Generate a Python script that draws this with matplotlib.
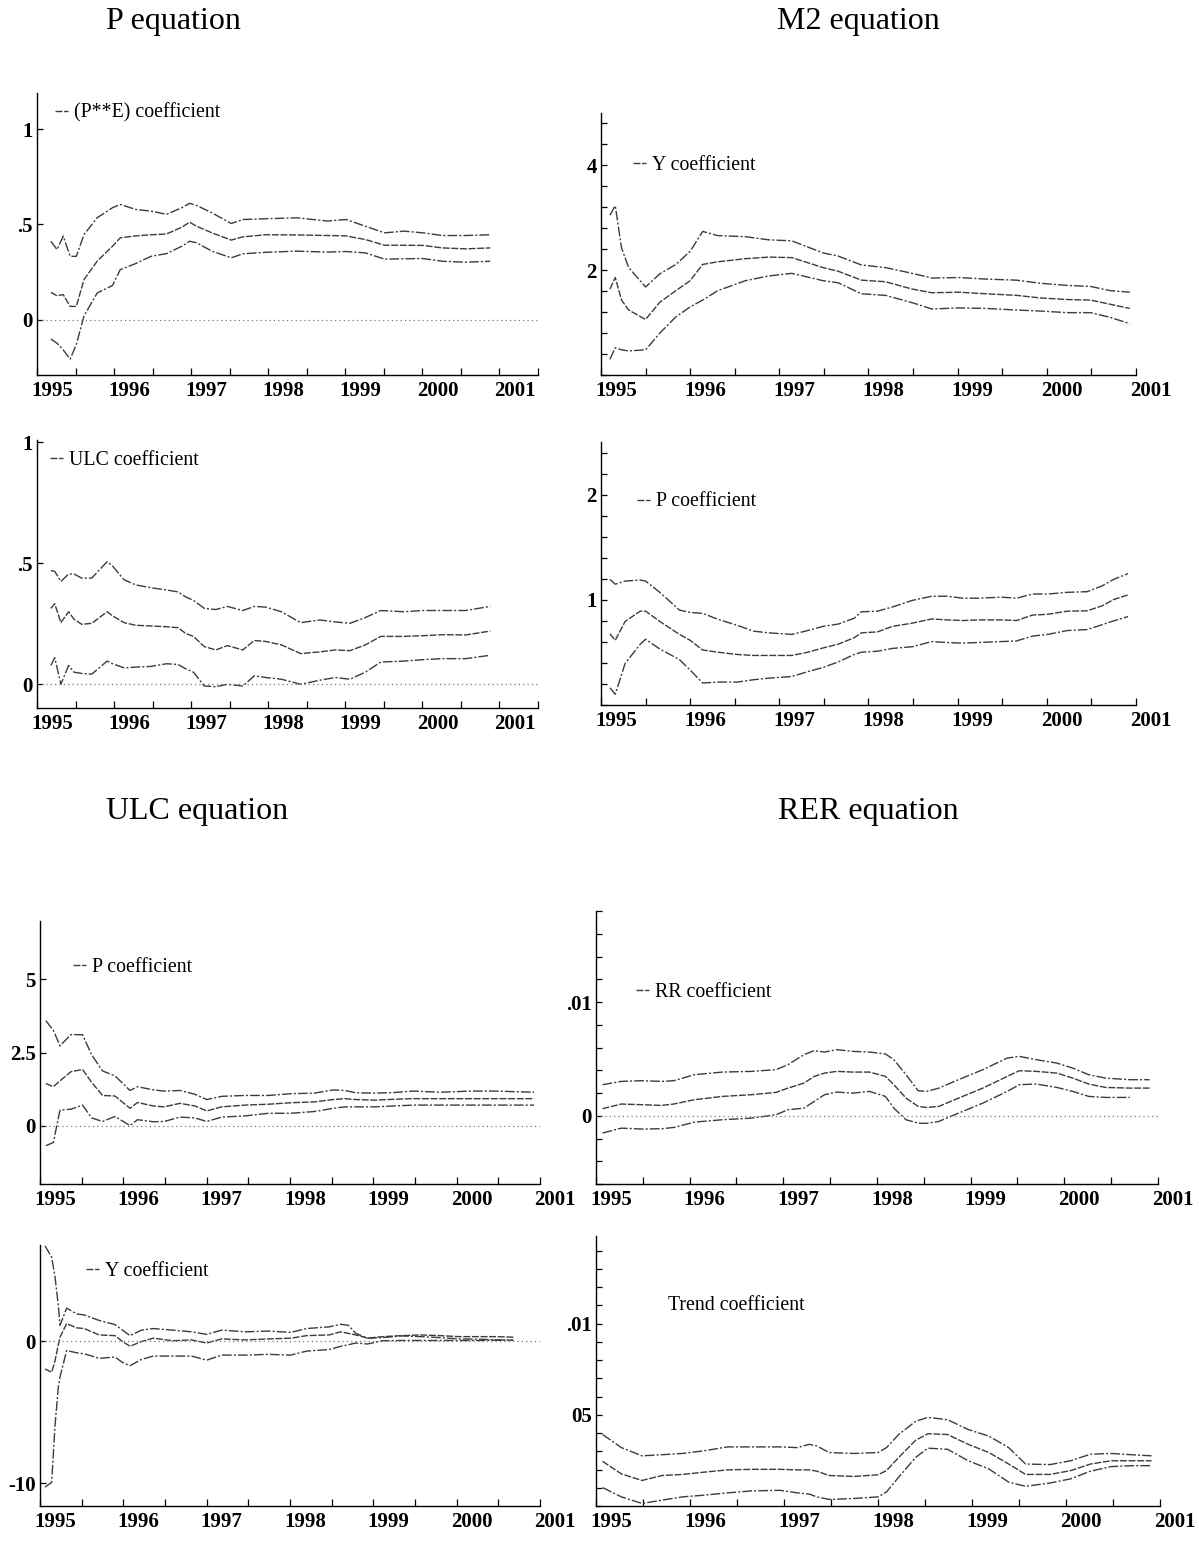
import numpy as np
import matplotlib
matplotlib.use("Agg")
import matplotlib.pyplot as plt
from matplotlib.ticker import MultipleLocator
from matplotlib.transforms import ScaledTranslation

plt.rcParams['font.family'] = ['Liberation Serif', 'DejaVu Serif']

# ---- P equation: (P**E) coefficient ----
pe_x = [1995.18, 1995.26, 1995.34, 1995.43, 1995.51, 1995.61, 1995.78, 1995.98, 1996.08, 1996.28,
        1996.48, 1996.68, 1996.88, 1996.98, 1997.07, 1997.27, 1997.52, 1997.67, 1997.97, 1998.37,
        1998.77, 1999.01, 1999.26, 1999.51, 1999.76, 2000.01, 2000.26, 2000.56, 2000.88]
pe_hi = [0.412, 0.368, 0.439, 0.333, 0.333, 0.447, 0.535, 0.588, 0.605, 0.579,
         0.570, 0.553, 0.588, 0.611, 0.600, 0.561, 0.505, 0.526, 0.530, 0.535,
         0.518, 0.526, 0.491, 0.456, 0.465, 0.456, 0.442, 0.442, 0.446]
pe_mid = [0.144, 0.126, 0.132, 0.070, 0.070, 0.211, 0.307, 0.386, 0.430, 0.440,
          0.446, 0.450, 0.486, 0.512, 0.491, 0.456, 0.418, 0.435, 0.446, 0.445,
          0.442, 0.440, 0.421, 0.391, 0.391, 0.390, 0.377, 0.372, 0.377]
pe_lo = [-0.102, -0.123, -0.158, -0.207, -0.130, 0.020, 0.140, 0.180, 0.263, 0.295,
         0.333, 0.347, 0.386, 0.412, 0.404, 0.360, 0.325, 0.346, 0.354, 0.360,
         0.355, 0.358, 0.351, 0.318, 0.320, 0.321, 0.307, 0.302, 0.307]

# ---- M2 equation: Y coefficient ----
m2y_x = [1995.10, 1995.16, 1995.23, 1995.31, 1995.50, 1995.66, 1995.84, 1996.00, 1996.14, 1996.31,
         1996.62, 1996.88, 1997.14, 1997.49, 1997.66, 1997.92, 1998.19, 1998.49, 1998.71, 1999.01,
         1999.32, 1999.66, 1999.93, 2000.23, 2000.49, 2000.71, 2000.93]
m2y_hi = [3.05, 3.23, 2.43, 2.05, 1.68, 1.93, 2.11, 2.36, 2.74, 2.66,
          2.64, 2.58, 2.56, 2.33, 2.27, 2.10, 2.05, 1.94, 1.85, 1.86,
          1.83, 1.81, 1.75, 1.71, 1.69, 1.61, 1.58]
m2y_mid = [1.64, 1.86, 1.43, 1.24, 1.06, 1.39, 1.61, 1.80, 2.11, 2.16,
           2.22, 2.25, 2.24, 2.05, 1.98, 1.81, 1.78, 1.64, 1.57, 1.58,
           1.55, 1.52, 1.47, 1.44, 1.43, 1.35, 1.27]
m2y_lo = [0.30, 0.52, 0.48, 0.46, 0.48, 0.80, 1.11, 1.30, 1.43, 1.61,
          1.80, 1.89, 1.94, 1.80, 1.76, 1.55, 1.52, 1.38, 1.26, 1.28,
          1.27, 1.24, 1.22, 1.19, 1.19, 1.10, 0.98]

# ---- P equation: ULC coefficient ----
pu_x = [1995.18, 1995.23, 1995.31, 1995.41, 1995.48, 1995.58, 1995.71, 1995.91, 1995.98, 1996.13,
        1996.28, 1996.48, 1996.68, 1996.83, 1996.93, 1997.03, 1997.17, 1997.32, 1997.47, 1997.67,
        1997.82, 1997.97, 1998.17, 1998.42, 1998.67, 1998.87, 1999.06, 1999.26, 1999.46, 1999.76,
        2000.01, 2000.26, 2000.56, 2000.88]
pu_hi = [0.470, 0.467, 0.425, 0.456, 0.456, 0.439, 0.439, 0.507, 0.489, 0.432,
         0.411, 0.399, 0.390, 0.382, 0.361, 0.347, 0.314, 0.309, 0.322, 0.305,
         0.322, 0.319, 0.300, 0.255, 0.266, 0.258, 0.252, 0.276, 0.305, 0.300,
         0.305, 0.305, 0.305, 0.322]
pu_mid = [0.314, 0.333, 0.255, 0.300, 0.269, 0.248, 0.252, 0.300, 0.283, 0.255,
          0.244, 0.241, 0.238, 0.234, 0.210, 0.198, 0.156, 0.142, 0.160, 0.142,
          0.181, 0.177, 0.163, 0.127, 0.134, 0.142, 0.139, 0.163, 0.198, 0.198,
          0.201, 0.205, 0.204, 0.220]
pu_lo = [0.078, 0.110, 0.000, 0.078, 0.050, 0.045, 0.042, 0.096, 0.085, 0.068,
         0.071, 0.074, 0.085, 0.082, 0.064, 0.050, -0.007, -0.010, 0.000, -0.007,
         0.035, 0.028, 0.021, 0.000, 0.017, 0.028, 0.021, 0.050, 0.092, 0.096,
         0.102, 0.106, 0.106, 0.120]

# ---- M2 equation: P coefficient ----
m2p_x = [1995.10, 1995.16, 1995.27, 1995.44, 1995.50, 1995.66, 1995.88, 1996.00, 1996.14, 1996.31,
         1996.53, 1996.71, 1996.88, 1997.14, 1997.32, 1997.49, 1997.66, 1997.84, 1997.92, 1998.10,
         1998.27, 1998.49, 1998.71, 1998.88, 1999.06, 1999.23, 1999.49, 1999.66, 1999.84, 2000.01,
         2000.23, 2000.45, 2000.62, 2000.75, 2000.91]
m2p_hi = [1.194, 1.148, 1.178, 1.188, 1.178, 1.071, 0.902, 0.880, 0.871, 0.815,
          0.757, 0.702, 0.686, 0.671, 0.708, 0.748, 0.769, 0.825, 0.886, 0.892,
          0.932, 0.994, 1.034, 1.034, 1.015, 1.015, 1.025, 1.015, 1.055, 1.055,
          1.071, 1.077, 1.132, 1.194, 1.249]
m2p_mid = [0.677, 0.615, 0.794, 0.892, 0.892, 0.794, 0.671, 0.615, 0.523, 0.502,
           0.480, 0.471, 0.471, 0.471, 0.502, 0.542, 0.578, 0.640, 0.686, 0.695,
           0.748, 0.778, 0.818, 0.809, 0.803, 0.809, 0.809, 0.803, 0.855, 0.862,
           0.892, 0.895, 0.942, 1.003, 1.046]
m2p_lo = [0.163, 0.102, 0.394, 0.578, 0.625, 0.532, 0.431, 0.332, 0.209, 0.218,
          0.218, 0.240, 0.255, 0.271, 0.317, 0.357, 0.409, 0.480, 0.502, 0.511,
          0.538, 0.554, 0.603, 0.594, 0.588, 0.594, 0.603, 0.609, 0.655, 0.671,
          0.708, 0.717, 0.763, 0.800, 0.840]

# ---- ULC equation: P coefficient ----
up_x = [1995.07, 1995.16, 1995.24, 1995.37, 1995.51, 1995.62, 1995.75, 1995.90, 1996.08, 1996.17,
        1996.36, 1996.49, 1996.68, 1996.86, 1997.00, 1997.18, 1997.46, 1997.74, 1998.01, 1998.29,
        1998.52, 1998.66, 1998.79, 1999.02, 1999.25, 1999.48, 1999.80, 2000.17, 2000.45, 2000.93]
up_hi = [3.59, 3.26, 2.73, 3.11, 3.11, 2.42, 1.87, 1.70, 1.20, 1.33,
         1.22, 1.18, 1.20, 1.07, 0.89, 1.00, 1.03, 1.03, 1.09, 1.11,
         1.22, 1.20, 1.12, 1.11, 1.13, 1.18, 1.14, 1.18, 1.18, 1.14]
up_mid = [1.44, 1.33, 1.53, 1.84, 1.92, 1.48, 1.03, 1.01, 0.59, 0.79,
          0.67, 0.64, 0.76, 0.67, 0.50, 0.64, 0.70, 0.73, 0.78, 0.81,
          0.89, 0.92, 0.89, 0.87, 0.90, 0.92, 0.92, 0.92, 0.92, 0.92]
up_lo = [-0.69, -0.58, 0.53, 0.56, 0.70, 0.26, 0.14, 0.31, 0.00, 0.20,
         0.13, 0.14, 0.29, 0.26, 0.14, 0.29, 0.33, 0.42, 0.42, 0.48,
         0.59, 0.64, 0.64, 0.64, 0.67, 0.70, 0.70, 0.70, 0.70, 0.70]

# ---- RER equation: RR coefficient ----
rr_x = [1995.07, 1995.27, 1995.49, 1995.70, 1995.83, 1996.05, 1996.35, 1996.66, 1996.92, 1997.05,
        1997.22, 1997.33, 1997.44, 1997.57, 1997.74, 1997.92, 1998.09, 1998.18, 1998.31, 1998.44,
        1998.53, 1998.66, 1998.87, 1999.13, 1999.39, 1999.52, 1999.70, 1999.92, 2000.09, 2000.26,
        2000.44, 2000.70, 2000.91]
rr_hi = [0.00273, 0.00302, 0.00308, 0.00302, 0.00308, 0.00361, 0.00384, 0.00390, 0.00405, 0.00449,
         0.00537, 0.00572, 0.00560, 0.00581, 0.00566, 0.00560, 0.00543, 0.00493, 0.00361, 0.00220,
         0.00214, 0.00243, 0.00317, 0.00405, 0.00507, 0.00522, 0.00493, 0.00463, 0.00419, 0.00361,
         0.00331, 0.00317, 0.00317]
rr_mid = [0.00062, 0.00103, 0.00097, 0.00091, 0.00103, 0.00141, 0.00170, 0.00185, 0.00205, 0.00243,
          0.00287, 0.00346, 0.00375, 0.00390, 0.00384, 0.00384, 0.00346, 0.00273, 0.00155, 0.00082,
          0.00073, 0.00082, 0.00155, 0.00243, 0.00346, 0.00396, 0.00390, 0.00375, 0.00331, 0.00279,
          0.00249, 0.00243, 0.00243]
rr_lo = [-0.00152, -0.00109, -0.00117, -0.00114, -0.00103, -0.00056, -0.00035, -0.00021, 0.00009, 0.00053,
         0.00067, 0.00126, 0.00185, 0.00208, 0.00199, 0.00214, 0.00170, 0.00067, -0.00035, -0.00065,
         -0.00067, -0.00050, 0.00023, 0.00111, 0.00214, 0.00273, 0.00279, 0.00249, 0.00214, 0.00170,
         0.00161, 0.00161, np.nan]

# ---- ULC equation: Y coefficient ----
uy_x = [1995.06, 1995.14, 1995.18, 1995.22, 1995.24, 1995.32, 1995.44, 1995.53, 1995.71, 1995.90,
        1995.99, 1996.08, 1996.22, 1996.36, 1996.59, 1996.82, 1997.00, 1997.18, 1997.46, 1997.74,
        1998.01, 1998.20, 1998.47, 1998.61, 1998.70, 1998.79, 1998.93, 1999.11, 1999.34, 1999.57,
        1999.80, 2000.03, 2000.26, 2000.49, 2000.68]
uy_hi = [6.74, 5.94, 4.57, 2.51, 1.14, 2.35, 1.94, 1.87, 1.48, 1.19,
         0.80, 0.41, 0.80, 0.91, 0.80, 0.68, 0.50, 0.80, 0.68, 0.73,
         0.64, 0.91, 1.03, 1.21, 1.14, 0.57, 0.23, 0.27, 0.39, 0.34,
         0.27, 0.18, 0.16, 0.11, 0.09]
uy_mid = [-1.94, -2.17, -1.37, -0.23, 0.30, 1.26, 0.96, 0.91, 0.46, 0.41,
          0.00, -0.34, 0.00, 0.23, 0.05, 0.11, -0.11, 0.18, 0.11, 0.18,
          0.23, 0.41, 0.46, 0.68, 0.57, 0.46, 0.23, 0.34, 0.41, 0.46,
          0.41, 0.34, 0.34, 0.34, 0.30]
uy_lo = [-10.27, -9.93, -5.94, -3.20, -2.50, -0.64, -0.80, -0.87, -1.19, -1.10,
         -1.48, -1.71, -1.26, -1.03, -1.03, -1.03, -1.32, -0.96, -0.96, -0.91,
         -0.96, -0.68, -0.57, -0.34, -0.23, -0.11, -0.18, 0.05, 0.07, 0.07,
         0.07, 0.07, 0.07, 0.09, 0.09]

# ---- RER equation: Trend coefficient ----
tr_x = [1995.07, 1995.27, 1995.49, 1995.70, 1995.92, 1996.14, 1996.40, 1996.66, 1996.96, 1997.14,
        1997.27, 1997.35, 1997.48, 1997.74, 1998.00, 1998.09, 1998.22, 1998.40, 1998.53, 1998.74,
        1998.96, 1999.18, 1999.39, 1999.57, 1999.83, 2000.05, 2000.26, 2000.48, 2000.70, 2000.91]
tr_hi = [0.00392, 0.00320, 0.00275, 0.00281, 0.00288, 0.00302, 0.00324, 0.00324, 0.00324, 0.00320,
         0.00338, 0.00329, 0.00293, 0.00288, 0.00293, 0.00320, 0.00392, 0.00464, 0.00486, 0.00473,
         0.00419, 0.00383, 0.00320, 0.00230, 0.00227, 0.00248, 0.00284, 0.00288, 0.00281, 0.00275]
tr_mid = [0.00245, 0.00176, 0.00140, 0.00167, 0.00173, 0.00185, 0.00198, 0.00201, 0.00201, 0.00198,
          0.00198, 0.00191, 0.00167, 0.00162, 0.00171, 0.00194, 0.00266, 0.00360, 0.00396, 0.00392,
          0.00338, 0.00293, 0.00230, 0.00173, 0.00173, 0.00194, 0.00230, 0.00248, 0.00248, 0.00248]
tr_lo = [0.00101, 0.00050, 0.00014, 0.00032, 0.00050, 0.00059, 0.00072, 0.00083, 0.00086, 0.00072,
         0.00065, 0.00050, 0.00036, 0.00041, 0.00050, 0.00077, 0.00158, 0.00266, 0.00317, 0.00311,
         0.00248, 0.00203, 0.00131, 0.00108, 0.00126, 0.00149, 0.00191, 0.00216, 0.00221, 0.00221]

years = [1995, 1996, 1997, 1998, 1999, 2000, 2001]

W, H = 1199, 1543
fig = plt.figure(figsize=(W / 100, H / 100), dpi=100)

LINE = '#3c3c3c'
BAND_LS = (0, (7, 1.5, 1.5, 1.5))
MID_LS = (0, (5, 1.2))
LEG_FS = 14.3
TICK_FS = 15


def box(l, r, t, b):
    return [l / W, 1 - b / H, (r - l) / W, (b - t) / H]


def panel(rect, x, hi, mid, lo, xmax, ylim, yticks, ylabels, yminor, label, leg_xy,
          zero=True, handle=True):
    ax = fig.add_axes(box(*rect))
    ax.plot(x, hi, color=LINE, lw=1.0, ls=BAND_LS)
    ax.plot(x, mid, color=LINE, lw=1.0, ls=MID_LS, label=label)
    ax.plot(x, lo, color=LINE, lw=1.0, ls=BAND_LS)
    if zero:
        ax.axhline(0, color='#7a7a7a', lw=0.9, ls=(0, (1, 2.5)))
    ax.set_xlim(1995, xmax)
    ax.set_ylim(*ylim)
    ax.set_xticks(years)
    ax.set_xticklabels([str(y) for y in years], fontweight='bold')
    ax.set_xticks(np.arange(1995.5, xmax + 0.01, 1.0), minor=True)
    ax.set_yticks(yticks)
    ax.set_yticklabels(ylabels, fontweight='bold')
    if yminor:
        ax.yaxis.set_minor_locator(MultipleLocator(yminor))
    for s in ['top', 'right']:
        ax.spines[s].set_visible(False)
    for s in ['left', 'bottom']:
        ax.spines[s].set_linewidth(1.0)
    ax.tick_params(axis='x', which='both', direction='in', length=5, width=0.9,
                   labelsize=TICK_FS, pad=4)
    ax.tick_params(axis='y', which='both', direction='in', length=4, width=0.9,
                   labelsize=TICK_FS, pad=3)
    for t in ax.get_xticklabels():
        t.set_transform(t.get_transform() + ScaledTranslation(0.15, 0, fig.dpi_scale_trans))
    if handle:
        ax.legend(loc='center left', bbox_to_anchor=leg_xy, frameon=False, fontsize=LEG_FS,
                  handlelength=0.65, handletextpad=0.3, borderpad=0, borderaxespad=0)
    else:
        ax.text(leg_xy[0], leg_xy[1], label, transform=ax.transAxes, fontsize=LEG_FS,
                va='center', ha='left')
    return ax


panel((37, 538, 93, 375), pe_x, pe_hi, pe_mid, pe_lo, 2001.5, (-0.29, 1.19),
      [0, 0.5, 1], ['0', '.5', '1'], None, '(P**E) coefficient', (0.036, 0.929))
panel((601, 1136, 113, 375), m2y_x, m2y_hi, m2y_mid, m2y_lo, 2001, (0, 5),
      [2, 4], ['2', '4'], 0.4, 'Y coefficient', (0.06, 0.80), zero=False)
panel((37, 538, 440, 708), pu_x, pu_hi, pu_mid, pu_lo, 2001.5, (-0.098, 1.01),
      [0, 0.5, 1], ['0', '.5', '1'], None, 'ULC coefficient', (0.026, 0.922))
panel((601, 1136, 442, 705), m2p_x, m2p_hi, m2p_mid, m2p_lo, 2001, (0, 2.5),
      [1, 2], ['1', '2'], 0.2, 'P coefficient', (0.067, 0.772), zero=False)
panel((40, 540, 921, 1184), up_x, up_hi, up_mid, up_lo, 2001, (-2, 7),
      [0, 2.5, 5], ['0', '2.5', '5'], None, 'P coefficient', (0.066, 0.824))
panel((596, 1158, 911, 1184), rr_x, rr_hi, rr_mid, rr_lo, 2001, (-0.006, 0.018),
      [0, 0.01], ['0', '.01'], 0.002, 'RR coefficient', (0.071, 0.70))
panel((40, 540, 1245, 1506), uy_x, uy_hi, uy_mid, uy_lo, 2001, (-11.6, 6.8),
      [-10, 0], ['-10', '0'], None, 'Y coefficient', (0.092, 0.90))
panel((596, 1160, 1236, 1506), tr_x, tr_hi, tr_mid, tr_lo, 2001, (0, 0.0148),
      [0.005, 0.01], ['05', '.01'], 0.001, 'Trend coefficient', (0.128, 0.743),
      zero=False, handle=False)

fig.text(173 / W, 1 - 22 / H, 'P equation', fontsize=23, ha='center', va='center')
fig.text(858 / W, 1 - 22 / H, 'M2 equation', fontsize=23, ha='center', va='center')
fig.text(197 / W, 1 - 812 / H, 'ULC equation', fontsize=23, ha='center', va='center')
fig.text(868 / W, 1 - 812 / H, 'RER equation', fontsize=23, ha='center', va='center')

fig.savefig('out.png', dpi=100)
